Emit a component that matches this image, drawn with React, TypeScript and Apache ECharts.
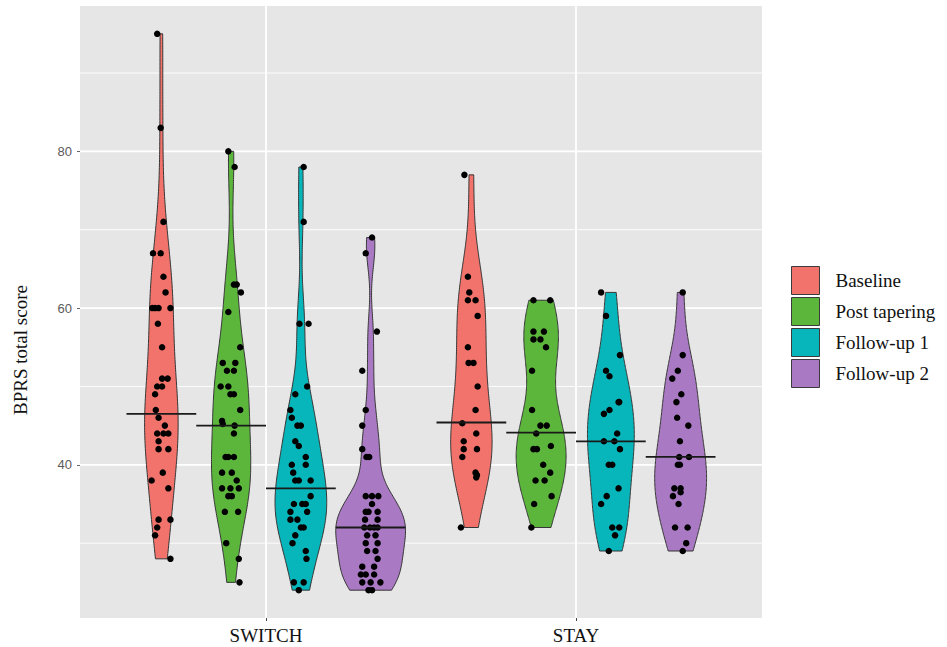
import React, { useEffect, useRef } from "react";
import * as echarts from "echarts";

const groups = ["SWITCH", "STAY"];
const timepoints = ["Baseline", "Post tapering", "Follow-up 1", "Follow-up 2"];
const fillColors = ["#F2736B", "#5CB63C", "#07B6BB", "#A97AC3"];

// Each point: [horizontal jitter as a fraction of the violin slot width, BPRS total score]
const switchBaseline: [number, number][] = [
  [-0.06, 95], [-0.01, 83], [0.03, 71], [-0.12, 67], [-0.01, 67], [0.03, 64], [0.06, 62],
  [-0.13, 60], [-0.09, 60], [-0.04, 60], [0.13, 60], [-0.05, 58], [0.01, 55], [0.01, 51],
  [0.09, 51], [-0.06, 50], [0.01, 50], [-0.09, 49], [-0.08, 47], [-0.04, 46], [0.05, 45],
  [-0.06, 44], [0.03, 44], [0.1, 44], [-0.04, 43], [-0.04, 42], [0.1, 42], [0.02, 39],
  [-0.14, 38], [0.1, 37], [-0.04, 33], [0.13, 33], [-0.06, 32], [-0.09, 31], [0.13, 28],
];
const switchPostTapering: [number, number][] = [
  [-0.04, 80], [0.05, 78], [0.04, 63], [0.08, 63], [0.14, 62], [-0.04, 59.5], [0.13, 55],
  [-0.12, 53], [0.06, 53], [-0.06, 52], [0.04, 52], [-0.15, 50], [-0.04, 50], [-0.01, 49],
  [0.04, 49], [0.13, 47], [-0.13, 45.6], [-0.12, 45.2], [0.05, 45], [0.04, 44], [-0.08, 41],
  [-0.04, 41], [0.04, 41], [-0.13, 39], [0.01, 39], [0.08, 38], [-0.13, 37], [-0.01, 37],
  [0.11, 37], [-0.04, 36], [0.01, 36], [-0.09, 34], [0.1, 34], [-0.07, 30], [0.11, 28],
  [0.12, 25],
];
const switchFollowUp1: [number, number][] = [
  [0.04, 78], [0.04, 71], [-0.02, 58], [0.11, 58], [0.09, 50], [-0.08, 49], [-0.15, 47],
  [-0.13, 46], [-0.05, 45], [0.0, 45], [-0.08, 43], [-0.03, 42.4], [0.07, 41], [-0.13, 40],
  [0.07, 40], [-0.11, 39], [-0.08, 38], [-0.03, 38], [0.14, 38], [0.14, 36], [-0.1, 35],
  [0.02, 35], [0.07, 35], [-0.15, 34], [0.09, 34], [-0.15, 33], [-0.05, 33], [0.0, 32],
  [0.04, 32], [-0.08, 31], [-0.12, 30], [0.07, 29], [0.08, 28], [-0.1, 25], [0.04, 25],
  [-0.03, 24],
];
const switchFollowUp2: [number, number][] = [
  [0.02, 69], [-0.07, 67], [0.09, 57], [-0.12, 52], [-0.07, 47], [-0.12, 45], [-0.12, 42],
  [-0.06, 41], [-0.02, 41], [-0.07, 36], [0.02, 36], [0.11, 36], [0.02, 35], [-0.07, 34],
  [-0.03, 34], [0.1, 34], [-0.08, 33], [0.1, 33], [-0.09, 32], [-0.01, 32], [0.05, 32],
  [0.1, 32], [-0.05, 31], [0.07, 31], [-0.07, 30], [0.1, 30], [-0.05, 29], [0.07, 29],
  [0.1, 28], [-0.12, 27], [0.05, 27], [-0.14, 26], [-0.07, 26], [0.05, 26], [-0.12, 25],
  [0.0, 25], [0.14, 25], [-0.03, 24], [0.02, 24],
];
const stayBaseline: [number, number][] = [
  [-0.1, 77], [-0.05, 64], [-0.03, 62], [-0.05, 61], [0.06, 61], [0.09, 59], [-0.05, 55],
  [-0.04, 53], [0.03, 53], [0.09, 50], [0.06, 47], [-0.13, 45.3], [0.07, 44], [-0.11, 43],
  [-0.11, 42], [0.08, 42], [-0.13, 41], [0.06, 39], [0.08, 38.7], [0.07, 38.4], [-0.15, 32],
];
const stayPostTapering: [number, number][] = [
  [-0.11, 61], [0.13, 61], [-0.11, 57], [0.04, 57], [-0.11, 56], [-0.01, 56], [0.07, 55],
  [-0.13, 52], [-0.13, 47], [-0.01, 45], [0.08, 45], [-0.07, 44], [0.14, 42.4], [-0.11, 42],
  [-0.06, 42], [0.03, 40], [0.13, 39], [-0.08, 38], [0.05, 38], [0.15, 36], [-0.1, 35],
  [-0.14, 32],
];
const stayFollowUp1: [number, number][] = [
  [-0.14, 62], [-0.07, 59], [0.13, 54], [-0.07, 52], [-0.02, 51.3], [0.11, 48], [0.12, 48],
  [-0.02, 47], [-0.1, 46.5], [0.09, 44], [-0.1, 43], [0.05, 43], [0.13, 42], [-0.03, 40],
  [0.02, 40], [0.11, 37], [-0.06, 36], [-0.14, 35], [0.02, 32], [0.12, 32], [0.06, 31],
  [-0.03, 29],
];
const stayFollowUp2: [number, number][] = [
  [0.03, 62], [0.03, 54], [-0.04, 52], [-0.12, 51], [0.01, 49], [-0.06, 48], [-0.05, 46],
  [0.11, 45], [-0.01, 43], [-0.02, 41], [0.12, 41], [-0.04, 40], [-0.01, 40], [-0.09, 37],
  [0.0, 37], [0.0, 36.5], [-0.11, 36], [-0.03, 35], [-0.08, 32], [0.1, 32], [0.08, 30],
  [0.03, 29],
];

const switchMedians = [46.5, 45, 37, 32];
const stayMedians = [45.4, 44.1, 43, 41];

const yMajorTicks = [40, 60, 80];
const yMinorTicks = [30, 50, 70, 90];

const cells = [
  [switchBaseline, switchPostTapering, switchFollowUp1, switchFollowUp2],
  [stayBaseline, stayPostTapering, stayFollowUp1, stayFollowUp2],
];
const medians = [switchMedians, stayMedians];

// dodge layout: 4 violins share 0.9 of each category unit
const dodgeWidth = 0.9;
const slot = dodgeWidth / timepoints.length;
const halfSlot = slot / 2;
const dodgeOffset = (k: number) => -dodgeWidth / 2 + slot * (k + 0.5);

const xMin = 0.4;
const xMax = groups.length + 0.6;

// continuous y range padded by 5% on both sides
const allScores: number[] = [];
cells.forEach((row) => row.forEach((pts) => pts.forEach((p) => allScores.push(p[1]))));
const scoreLo = Math.min(...allScores);
const scoreHi = Math.max(...allScores);
const pad = (scoreHi - scoreLo) * 0.05;
const yMin = scoreLo - pad;
const yMax = scoreHi + pad;

// Gaussian kernel density with Silverman's rule-of-thumb bandwidth, trimmed to data range
function quantile7(sorted: number[], p: number) {
  const h = (sorted.length - 1) * p;
  const lo = Math.floor(h);
  const hi = Math.ceil(h);
  return sorted[lo] + (h - lo) * (sorted[hi] - sorted[lo]);
}
function bandwidth(xs: number[]) {
  const n = xs.length;
  const mean = xs.reduce((a, b) => a + b, 0) / n;
  const sd = Math.sqrt(xs.reduce((a, b) => a + (b - mean) ** 2, 0) / (n - 1));
  const s = xs.slice().sort((a, b) => a - b);
  const iqr = quantile7(s, 0.75) - quantile7(s, 0.25);
  let lo = Math.min(sd, iqr / 1.34);
  if (!lo) lo = sd || 1;
  return 0.9 * lo * Math.pow(n, -0.2);
}
function densityProfile(xs: number[]) {
  const bw = bandwidth(xs);
  const lo = Math.min(...xs);
  const hi = Math.max(...xs);
  const steps = 200;
  const ys: number[] = [];
  const ds: number[] = [];
  for (let i = 0; i <= steps; i++) {
    const y = lo + ((hi - lo) * i) / steps;
    let sum = 0;
    for (const x of xs) {
      const z = (y - x) / bw;
      sum += Math.exp(-0.5 * z * z);
    }
    ys.push(y);
    ds.push(sum / (xs.length * bw * Math.sqrt(2 * Math.PI)));
  }
  return { ys, ds };
}

const profiles = cells.map((row) => row.map((pts) => densityProfile(pts.map((p) => p[1]))));
const maxDensity = Math.max(...profiles.flat().map((p) => Math.max(...p.ds)));

export default function App() {
  const ref = useRef<HTMLDivElement>(null);

  useEffect(() => {
    if (!ref.current) return;
    const chart = echarts.init(ref.current, undefined, { renderer: "svg" });

    const gridData: number[][] = [
      ...yMinorTicks.map((v) => [1, v]),
      ...yMajorTicks.map((v) => [0, v]),
      ...groups.map((_, gi) => [2, gi + 1]),
    ];

    const violinSeries = timepoints.map((name, k) => ({
      type: "custom",
      name,
      coordinateSystem: "cartesian2d",
      z: 2,
      silent: true,
      itemStyle: { color: fillColors[k], borderColor: "#3a3a3a", borderWidth: 1 },
      data: groups.map((_, gi) => [gi + 1 + dodgeOffset(k), medians[gi][k]]),
      renderItem: (params: any, api: any) => {
        const gi = params.dataIndex;
        const prof = profiles[gi][k];
        const cx = gi + 1 + dodgeOffset(k);
        const right = prof.ys.map((y, i) => api.coord([cx + (prof.ds[i] / maxDensity) * halfSlot, y]));
        const left = prof.ys
          .map((y, i) => api.coord([cx - (prof.ds[i] / maxDensity) * halfSlot, y]))
          .reverse();
        return {
          type: "polygon",
          shape: { points: right.concat(left) },
          style: { fill: fillColors[k], stroke: "#353535", lineWidth: 1 },
        };
      },
    }));

    const pointData: number[][] = [];
    cells.forEach((row, gi) =>
      row.forEach((pts, k) =>
        pts.forEach(([jit, score]) => pointData.push([gi + 1 + dodgeOffset(k) + jit * slot, score]))
      )
    );

    const medianData: number[][] = [];
    medians.forEach((row, gi) => row.forEach((m, k) => medianData.push([gi + 1 + dodgeOffset(k), m])));

    const option: any = {
      animation: false,
      grid: {
        left: 80,
        right: 185,
        top: 6,
        bottom: 29,
        show: true,
        backgroundColor: "#E6E6E7",
        borderWidth: 0,
      },
      xAxis: {
        type: "value",
        min: xMin,
        max: xMax,
        axisLine: { show: false },
        splitLine: { show: false },
        axisTick: { customValues: [1, 2], length: 3, lineStyle: { color: "#444", width: 1 } },
        axisLabel: {
          customValues: [1, 2],
          formatter: (v: number) => groups[Math.round(v) - 1] ?? "",
          fontFamily: "Liberation Serif",
          fontSize: 19,
          color: "#111",
          margin: 8,
        },
      },
      yAxis: {
        type: "value",
        min: yMin,
        max: yMax,
        axisLine: { show: false },
        splitLine: { show: false },
        axisTick: { customValues: yMajorTicks, length: 3, lineStyle: { color: "#666", width: 1 } },
        axisLabel: {
          customValues: yMajorTicks,
          fontFamily: "Liberation Sans",
          fontSize: 13,
          color: "#5a5a5a",
          margin: 8,
        },
      },
      legend: {
        orient: "vertical",
        left: 791,
        top: 266,
        padding: 0,
        itemWidth: 28,
        itemHeight: 28,
        itemGap: 2,
        selectedMode: false,
        icon: "rect",
        data: timepoints.map((name, i) => ({
          name,
          itemStyle: { color: fillColors[i], borderColor: "#3b3b3b", borderWidth: 1 },
        })),
        textStyle: {
          fontFamily: "Liberation Serif",
          fontSize: 19,
          color: "#111",
          padding: [0, 0, 0, 11],
        },
      },
      graphic: [
        {
          type: "text",
          x: 20,
          y: 350,
          rotation: Math.PI / 2,
          style: {
            text: "BPRS total score",
            font: '19px "Liberation Serif"',
            fill: "#111",
            align: "center",
            verticalAlign: "middle",
            textAlign: "center",
            textVerticalAlign: "middle",
          },
        },
      ],
      series: [
        {
          type: "custom",
          name: "grid",
          coordinateSystem: "cartesian2d",
          z: 1,
          silent: true,
          data: gridData,
          renderItem: (_params: any, api: any) => {
            const kind = api.value(0);
            const v = api.value(1);
            const p1 = kind === 2 ? api.coord([v, yMin]) : api.coord([xMin, v]);
            const p2 = kind === 2 ? api.coord([v, yMax]) : api.coord([xMax, v]);
            return {
              type: "line",
              shape: { x1: p1[0], y1: p1[1], x2: p2[0], y2: p2[1] },
              style: { stroke: "#ffffff", lineWidth: kind === 1 ? 0.9 : 1.8 },
            };
          },
        },
        ...violinSeries,
        {
          type: "scatter",
          name: "points",
          z: 3,
          silent: true,
          symbolSize: 6.5,
          itemStyle: { color: "#000", opacity: 1 },
          data: pointData,
        },
        {
          type: "custom",
          name: "medians",
          coordinateSystem: "cartesian2d",
          z: 4,
          silent: true,
          data: medianData,
          renderItem: (_params: any, api: any) => {
            const cx = api.value(0);
            const m = api.value(1);
            const p1 = api.coord([cx - halfSlot, m]);
            const p2 = api.coord([cx + halfSlot, m]);
            return {
              type: "line",
              shape: { x1: p1[0], y1: p1[1], x2: p2[0], y2: p2[1] },
              style: { stroke: "#1a1a1a", lineWidth: 1.8 },
            };
          },
        },
      ],
    };

    chart.setOption(option);
    return () => chart.dispose();
  }, []);

  return (
    <div
      ref={ref}
      style={{ position: "fixed", left: 0, top: 0, width: 947, height: 647, background: "#fff" }}
    />
  );
}
